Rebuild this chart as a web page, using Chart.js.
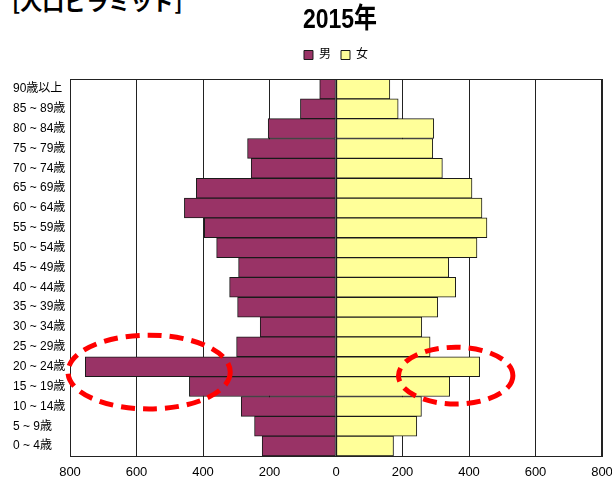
<!DOCTYPE html>
<html lang="ja">
<head>
  <meta charset="UTF-8">
  <title>人口ピラミッド 2015年</title>
  <script src="https://cdn.jsdelivr.net/npm/chart.js"></script>
  <style>
    html, body {
      margin: 0;
      padding: 0;
      background: #fff;
      overflow: hidden;
    }
    #wrap {
      position: relative;
      width: 612px;
      height: 485px;
    }
    #heading {
      position: absolute;
      left: 12px;
      top: -11px;
      font-family: "Noto Sans CJK JP", sans-serif;
      font-weight: bold;
      font-size: 22px;
      line-height: 22px;
      color: #000;
      white-space: nowrap;
    }
    canvas {
      position: absolute;
      left: 0;
      top: 0;
    }
  </style>
</head>
<body>
  <div id="wrap">
    <div id="heading">[人口ピラミッド]</div>
    <canvas id="pyramid" width="612" height="485"></canvas>
  </div>

  <script>
    // 上から順（90歳以上 → 0～4歳）
    const ageGroups = [
      "90歳以上", "85 ~ 89歳", "80 ~ 84歳", "75 ~ 79歳", "70 ~ 74歳",
      "65 ~ 69歳", "60 ~ 64歳", "55 ~ 59歳", "50 ~ 54歳", "45 ~ 49歳",
      "40 ~ 44歳", "35 ~ 39歳", "30 ~ 34歳", "25 ~ 29歳", "20 ~ 24歳",
      "15 ~ 19歳", "10 ~ 14歳", "5 ~ 9歳", "0 ~ 4歳"
    ];
    const male = [49, 107, 204, 266, 255, 420, 456, 396, 359, 293, 320, 296, 228, 299, 754, 441, 285, 245, 222];
    const female = [162, 187, 294, 291, 320, 409, 439, 454, 424, 339, 360, 306, 258, 283, 432, 342, 257, 243, 173];
    const xTicks = [-800, -600, -400, -200, 0, 200, 400, 600, 800];
    const chartTitle = '2015年';

    // 赤い点線の楕円（中心値・半径は軸の単位）
    const markX = [-562, 360];
    const markRow = [14.27, 14.45];
    const markRx = [244, 172];
    const markRy = [1.86, 1.43];

    const FONT = "'Liberation Sans', 'Noto Sans CJK JP', sans-serif";

    // タイトルは細めの字形なので横に縮めて描く
    const narrowTitle = {
      id: 'narrowTitle',
      afterDraw(chart) {
        const a = chart.chartArea;
        const c = chart.ctx;
        c.save();
        c.translate((a.left + a.right) / 2 + 4, 28);
        c.scale(0.82, 1);
        c.font = "bold 28px " + FONT;
        c.fillStyle = '#000';
        c.textAlign = 'center';
        c.textBaseline = 'alphabetic';
        c.fillText(chartTitle, 0, 0);
        c.restore();
      }
    };

    const frame = {
      id: 'frame',
      afterDatasetsDraw(chart) {
        const a = chart.chartArea;
        const c = chart.ctx;
        c.save();
        c.strokeStyle = '#222';
        c.lineWidth = 1;
        c.strokeRect(a.left + 0.5, a.top + 0.5, a.right - a.left - 1, a.bottom - a.top);
        c.restore();
      }
    };

    const ellipses = {
      id: 'ellipses',
      afterDraw(chart) {
        const xs = chart.scales.x, ys = chart.scales.y;
        const c = chart.ctx;
        c.save();
        c.strokeStyle = '#ff0000';
        c.lineWidth = 5;
        c.setLineDash([14, 8]);
        for (let i = 0; i < markX.length; i++) {
          const cx = xs.getPixelForValue(markX[i]);
          const rx = Math.abs(xs.getPixelForValue(markX[i] + markRx[i]) - cx);
          const cy = ys.getPixelForValue(markRow[i]);
          const ry = Math.abs(ys.getPixelForValue(markRow[i] + markRy[i]) - cy);
          c.beginPath();
          c.ellipse(cx, cy, rx, ry, 0, 0, Math.PI * 2);
          c.stroke();
        }
        c.restore();
      }
    };

    new Chart(document.getElementById('pyramid'), {
      type: 'bar',
      data: {
        labels: ageGroups,
        datasets: [
          {
            label: '男',
            data: male.map(v => -v),
            xAxisID: 'x',
            backgroundColor: '#993366',
            borderColor: '#1a1a1a',
            borderWidth: 1,
            borderSkipped: false
          },
          {
            label: '女',
            data: female,
            xAxisID: 'x',
            backgroundColor: '#ffff99',
            borderColor: '#1a1a1a',
            borderWidth: 1,
            borderSkipped: false
          }
        ]
      },
      options: {
        indexAxis: 'y',
        responsive: false,
        animation: false,
        layout: { padding: { left: 13, right: 10, top: 39, bottom: 0 } },
        datasets: { bar: { categoryPercentage: 1, barPercentage: 1 } },
        plugins: {
          title: { display: false },
          legend: {
            display: true,
            fullSize: false,
            labels: {
              color: '#000',
              font: { family: FONT, size: 12 },
              boxWidth: 9,
              boxHeight: 9,
              padding: 10
            }
          },
          tooltip: { enabled: false }
        },
        scales: {
          x: {
            stacked: true,
            min: -800,
            max: 800,
            afterBuildTicks(scale) {
              scale.ticks = xTicks.map(v => ({ value: v }));
            },
            afterFit(scale) {
              scale.height = 29;
              scale.paddingLeft = 0;
              scale.paddingRight = 0;
            },
            ticks: {
              color: '#000',
              font: { family: FONT, size: 13 },
              padding: 9,
              maxRotation: 0,
              callback: v => Math.abs(v)
            },
            grid: { color: '#222', lineWidth: 1, drawTicks: false },
            border: { color: '#222' }
          },
          // 凡例とグラフの間の余白だけの軸
          gap: {
            type: 'linear',
            axis: 'x',
            position: 'top',
            afterFit(scale) {
              scale.height = 8;
              scale.paddingLeft = 0;
              scale.paddingRight = 0;
            },
            ticks: { display: false },
            grid: { display: false, drawTicks: false },
            border: { display: false }
          },
          y: {
            stacked: true,
            afterFit(scale) {
              scale.width = 57;
              scale.paddingTop = 0;
              scale.paddingBottom = 0;
            },
            ticks: {
              color: '#000',
              font: { family: FONT, size: 12 },
              crossAlign: 'far',
              autoSkip: false,
              padding: 4
            },
            grid: { display: false, drawTicks: false },
            border: { color: '#222' }
          }
        }
      },
      plugins: [narrowTitle, frame, ellipses]
    });
  </script>
</body>
</html>
